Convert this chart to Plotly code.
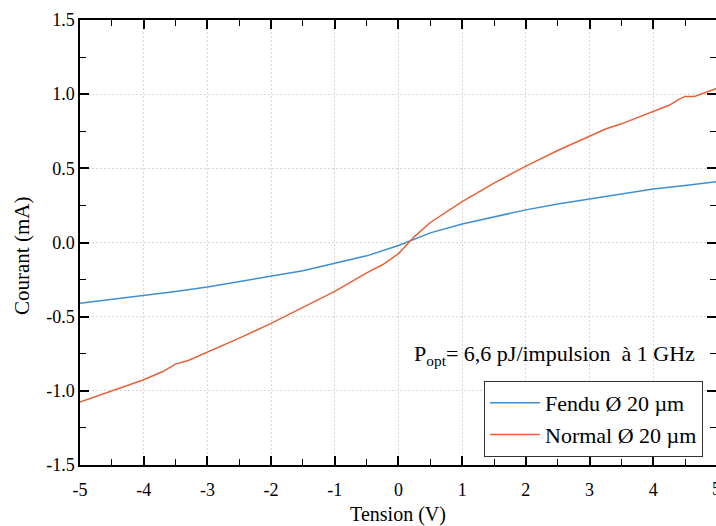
import plotly.graph_objects as go

# Data
v_fendu = [-5, -4.5, -4, -3.5, -3, -2.5, -2, -1.5, -1, -0.5, 0, 0.25, 0.5, 1, 1.5, 2, 2.5, 3, 3.5, 4, 4.5, 5]
i_fendu = [-0.41, -0.385, -0.36, -0.33, -0.30, -0.265, -0.23, -0.19, -0.14, -0.09, -0.02, 0.025, 0.065,
           0.125, 0.175, 0.22, 0.26, 0.295, 0.33, 0.36, 0.385, 0.41]

v_normal = [-5, -4.5, -4, -3.7, -3.5, -3.3, -3, -2.75, -2.5, -2, -1.5, -1, -0.5, -0.25, 0, 0.25, 0.5,
            0.75, 1, 1.5, 2, 2.5, 3, 3.25, 3.5, 4, 4.25, 4.4, 4.5, 4.65, 5]
i_normal = [-1.075, -1.0, -0.925, -0.87, -0.82, -0.795, -0.74, -0.69, -0.645, -0.545, -0.44, -0.33,
            -0.205, -0.15, -0.075, 0.04, 0.135, 0.205, 0.275, 0.4, 0.515, 0.62, 0.715, 0.765, 0.8,
            0.88, 0.925, 0.965, 0.985, 0.985, 1.04]

x_ticks = [-5, -4, -3, -2, -1, 0, 1, 2, 3, 4]
x_ticktext = ["-5", "-4", "-3", "-2", "-1", "0", "1", "2", "3", "4"]
y_ticks = [-1.5, -1.0, -0.5, 0.0, 0.5, 1.0, 1.5]
y_ticktext = ["-1.5", "-1.0", "-0.5", "0.0", "0.5", "1.0", "1.5"]
x_min, x_max = -5, 4.985
y_min, y_max = -1.5, 1.5

FONT = "Liberation Serif"
BLUE = "#3f8fd0"
ORANGE = "#e5623a"
GRID = "#d6d6d6"

fig = go.Figure()
fig.add_trace(go.Scatter(x=v_fendu, y=i_fendu, mode="lines", name="Fendu Ø 20 µm",
                         line=dict(color=BLUE, width=1.5)))
fig.add_trace(go.Scatter(x=v_normal, y=i_normal, mode="lines", name="Normal Ø 20 µm",
                         line=dict(color=ORANGE, width=1.5)))
# carrier for the right-hand tick axis
fig.add_trace(go.Scatter(x=[None], y=[None], yaxis="y2", showlegend=False, hoverinfo="skip"))

tickfont = dict(family=FONT, size=18, color="black")

fig.update_layout(
    width=716, height=526,
    margin=dict(l=80, r=0, t=20, b=61),
    paper_bgcolor="white", plot_bgcolor="white",
    font=dict(family=FONT, color="black", size=18),
    showlegend=True,
    legend=dict(x=(703 - 80) / 636, y=(465 - 381) / 445, xanchor="right", yanchor="top",
                bgcolor="white", bordercolor="#333333", borderwidth=1,
                itemwidth=50, font=dict(family=FONT, size=22), tracegroupgap=0),
    xaxis=dict(range=[x_min, x_max], tickvals=x_ticks, ticktext=x_ticktext, automargin=False,
               showline=True, linecolor="black", linewidth=1.5, mirror="ticks",
               ticks="inside", ticklen=9, tickwidth=1.5, tickcolor="black",
               ticklabelstandoff=8,
               minor=dict(dtick=0.5, ticks="inside", ticklen=6, tickwidth=1.2, tickcolor="black",
                          showgrid=False),
               showgrid=True, gridcolor=GRID, griddash="2px,2px", gridwidth=1,
               zeroline=False, tickfont=tickfont,
               title=dict(text="Tension (V)", font=dict(family=FONT, size=20), standoff=12)),
    yaxis=dict(range=[y_min, y_max], tickvals=y_ticks, ticktext=y_ticktext, automargin=False,
               showline=True, linecolor="black", linewidth=1.5,
               ticks="inside", ticklen=9, tickwidth=1.5, tickcolor="black",
               minor=dict(dtick=0.25, ticks="inside", ticklen=6, tickwidth=1.2, tickcolor="black",
                          showgrid=False),
               showgrid=True, gridcolor=GRID, griddash="2px,2px", gridwidth=1,
               zeroline=False, tickfont=tickfont),
    yaxis2=dict(range=[y_min, y_max], overlaying="y", side="right", showline=False,
                tickvals=y_ticks, showticklabels=False, automargin=False,
                ticks="inside", ticklen=9, tickwidth=1.5, tickcolor="black",
                minor=dict(dtick=0.25, ticks="inside", ticklen=6, tickwidth=1.2, tickcolor="black"),
                showgrid=False, zeroline=False),
)

# y-axis title (placed slightly below the plot centre, as in the reference)
fig.add_annotation(x=(22 - 80) / 636, xref="paper", y=(465 - 256) / 445, yref="paper",
                   text="Courant (mA)", textangle=-90, showarrow=False,
                   xanchor="center", yanchor="middle", font=dict(family=FONT, size=21))

# partially visible "5" tick label at the clipped right edge
fig.add_annotation(x=(5 - x_min) / (x_max - x_min), xref="paper", y=0, yref="paper",
                   yshift=-12, text="5", showarrow=False, yanchor="top", xanchor="center",
                   font=tickfont)

fig.add_annotation(x=(697 - 80) / 636, xref="paper", y=(465 - 355) / 445, yref="paper",
                   text="P<sub>opt</sub>= 6,6 pJ/impulsion  à 1 GHz", showarrow=False,
                   xanchor="right", yanchor="middle", font=dict(family=FONT, size=22))

fig.write_html("out.html", config={"displayModeBar": False},
               post_script="document.body.style.margin='0';")
